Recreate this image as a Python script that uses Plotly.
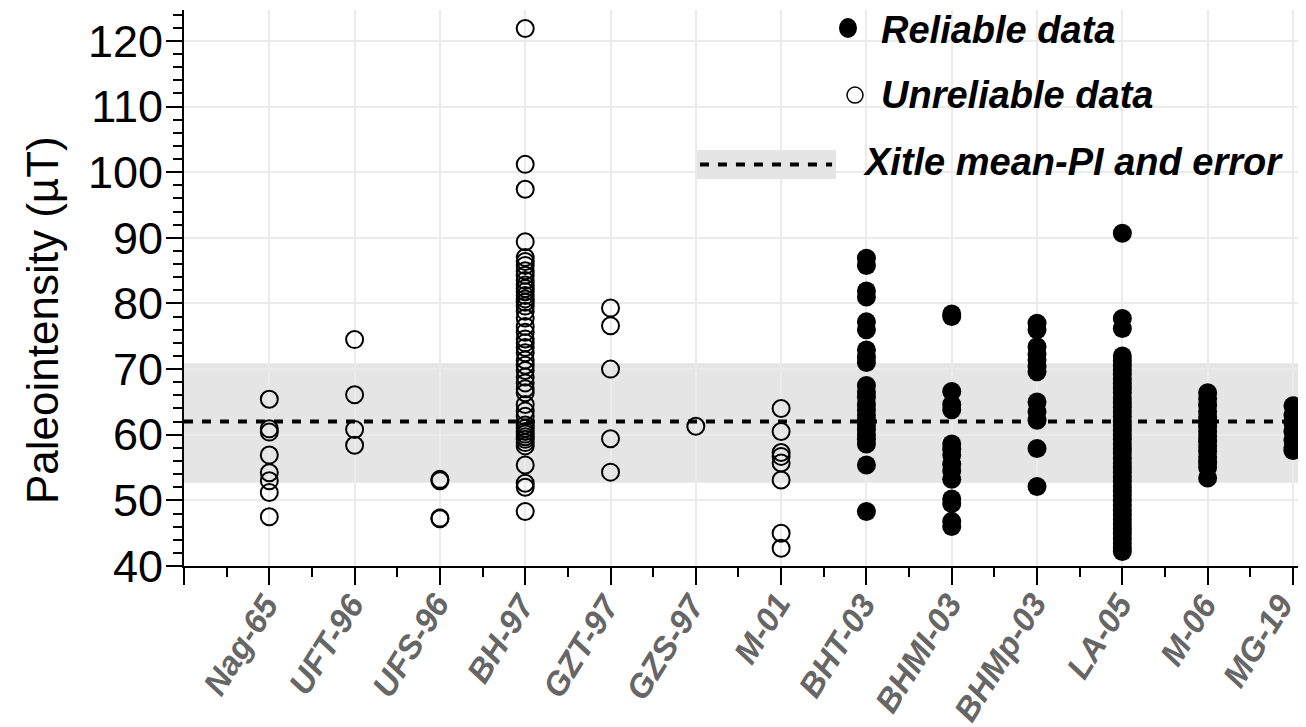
import plotly.graph_objects as go

# ---------------- data ----------------
categories = ["Nag-65", "UFT-96", "UFS-96", "BH-97", "GZT-97", "GZS-97", "M-01",
              "BHT-03", "BHMI-03", "BHMp-03", "LA-05", "M-06", "MG-19"]
reliable = [False, False, False, False, False, False, False,
            True, True, True, True, True, True]

nag65 = [65.4, 60.9, 60.4, 56.9, 54.2, 53.0, 51.2, 47.5]
uft96 = [74.5, 66.1, 60.8, 58.4]
ufs96 = [53.2, 53.0, 47.3, 47.2]
bh97 = [121.9, 101.2, 97.4, 89.4, 87.0, 86.4, 85.8, 85.0, 84.3, 83.5, 82.8, 82.3,
        81.8, 81.2, 80.7, 80.2, 79.6, 78.8, 77.8, 76.5, 75.6, 74.6, 74.0, 73.3,
        72.5, 71.4, 70.6, 69.8, 68.8, 67.9, 67.0, 66.4, 64.6, 63.6, 62.8, 61.5,
        61.0, 60.5, 60.1, 59.7, 59.3, 58.8, 58.3, 55.4, 52.6, 52.0, 48.3]
gzt97 = [79.3, 76.6, 70.0, 59.4, 54.3]
gzs97 = [61.3]
m01 = [64.0, 60.5, 57.3, 56.7, 55.7, 53.1, 45.0, 42.7]
bht03 = [86.9, 85.8, 81.9, 81.0, 77.2, 76.0, 72.9, 71.8, 71.0, 67.5, 66.5, 65.7,
         64.6, 63.8, 63.0, 62.2, 61.5, 60.8, 60.0, 59.3, 58.6, 55.4, 48.3]
bhmi03 = [78.4, 78.0, 66.6, 64.6, 63.8, 58.6, 57.8, 56.9, 55.5, 54.5, 53.2, 50.2,
          49.5, 46.8, 46.0]
bhmp03 = [77.0, 76.0, 73.4, 72.3, 71.4, 70.4, 69.6, 65.0, 63.5, 62.2, 57.9, 52.1]
la05 = [90.7, 77.7, 76.2, 72.0, 71.3, 70.6, 69.9, 69.2, 68.5, 67.8, 67.1, 66.4,
        65.6, 64.9, 64.2, 63.5, 62.8, 62.1, 61.4, 60.7, 60.0, 59.3, 58.6, 57.9,
        57.2, 56.4, 55.7, 55.0, 54.3, 53.6, 52.9, 52.1, 51.4, 50.7, 50.0, 49.3,
        48.5, 47.8, 47.1, 46.4, 45.7, 45.0, 44.2, 43.5, 42.8, 42.2]
m06 = [66.4, 65.5, 64.5, 63.5, 62.7, 62.0, 61.3, 60.5, 59.8, 59.0, 58.3, 57.5,
       56.6, 55.8, 55.0, 53.4]
mg19 = [64.4, 63.0, 61.8, 60.5, 59.2, 58.0, 57.6]

series = [nag65, uft96, ufs96, bh97, gzt97, gzs97, m01,
          bht03, bhmi03, bhmp03, la05, m06, mg19]

mean_pi = 62.0
pi_low = 52.7
pi_high = 70.9

y_ticks = [40, 50, 60, 70, 80, 90, 100, 110, 120]

# ---------------- build ----------------
FONT = "Arial, Liberation Sans, sans-serif"

xu, yu, xr, yr = [], [], [], []
for i, (vals, rel) in enumerate(zip(series, reliable), start=1):
    if rel:
        xr += [i] * len(vals)
        yr += vals
    else:
        xu += [i] * len(vals)
        yu += vals

fig = go.Figure()
fig.add_trace(go.Scatter(
    x=xu, y=yu, mode="markers", name="Unreliable data", showlegend=False,
    marker=dict(symbol="circle-open", size=17, color="black",
                line=dict(width=2, color="black")),
    cliponaxis=False))
fig.add_trace(go.Scatter(
    x=xr, y=yr, mode="markers", name="Reliable data", showlegend=False,
    marker=dict(symbol="circle", size=19, color="black"),
    cliponaxis=False))

# error band and mean line
fig.add_shape(type="rect", xref="paper", yref="y", x0=0, x1=1,
              y0=pi_low, y1=pi_high, fillcolor="#e5e5e5",
              line=dict(width=0), layer="between")
fig.add_shape(type="line", xref="paper", yref="y", x0=0, x1=1,
              y0=mean_pi, y1=mean_pi,
              line=dict(color="black", width=4, dash="9px,9px"), layer="above")

# manual legend (paper coordinates)
fig.add_shape(type="circle", xref="paper", yref="paper",
              xsizemode="pixel", ysizemode="pixel",
              xanchor=0.5876, yanchor=0.9676, x0=-9, x1=9, y0=-10, y1=10,
              fillcolor="black", line=dict(width=0))
fig.add_shape(type="circle", xref="paper", yref="paper",
              xsizemode="pixel", ysizemode="pixel",
              xanchor=0.5938, yanchor=0.847, x0=-8, x1=8, y0=-8, y1=8,
              fillcolor="rgba(0,0,0,0)", line=dict(width=1.5, color="black"))
fig.add_shape(type="rect", xref="paper", yref="paper",
              x0=0.454, x1=0.577, y0=0.696, y1=0.748,
              fillcolor="#e5e5e5", line=dict(width=0))
fig.add_shape(type="line", xref="paper", yref="paper",
              x0=0.4566, x1=0.5735, y0=0.7221, y1=0.7221,
              line=dict(color="black", width=4, dash="9px,9px"))

legend_texts = [("Reliable data", 0.6159, 0.964),
                ("Unreliable data", 0.6159, 0.847),
                ("Xitle mean-PI and error", 0.600, 0.727)]
for txt, lx, ly in legend_texts:
    fig.add_annotation(text="<b><i>%s</i></b>" % txt, xref="paper", yref="paper",
                       x=lx, y=ly, xanchor="left", yanchor="middle",
                       showarrow=False, borderpad=0,
                       font=dict(family=FONT, size=38, color="black"))

# y-axis title
fig.add_annotation(text="Paleointensity (µT)", xref="paper", yref="paper",
                   x=-0.1257, y=0.4424, xanchor="center", yanchor="middle",
                   textangle=-90, showarrow=False, borderpad=0,
                   font=dict(family=FONT, size=44, color="black"))

# category labels (rotated, anchored at their tick)
for i, cat in enumerate(categories, start=1):
    shift = 18 if i < len(categories) else 9
    fig.add_annotation(text="<b><i>%s</i></b>" % cat, xref="x", yref="paper",
                       x=i, y=-0.036, xshift=shift, xanchor="right", yanchor="top",
                       textangle=-58, showarrow=False, borderpad=0,
                       font=dict(family=FONT, size=33, color="#666666"))

fig.update_layout(
    width=1306, height=727,
    margin=dict(l=176, r=0, t=2, b=169),
    plot_bgcolor="white", paper_bgcolor="white",
    font=dict(family=FONT, color="black"),
    showlegend=False,
    xaxis=dict(
        range=[0, 13.247],
        automargin=False,
        tickmode="array",
        tickvals=list(range(0, len(categories) + 1)),
        showticklabels=False,
        ticks="outside", ticklen=17, tickwidth=2, tickcolor="black",
        showline=True, linecolor="black", linewidth=2,
        showgrid=True, gridcolor="#ebebeb", gridwidth=1.5,
        zeroline=False,
        minor=dict(tickmode="array",
                   tickvals=[k + 0.5 for k in range(len(categories))],
                   ticks="outside", ticklen=9, tickwidth=2, tickcolor="black",
                   showgrid=False),
    ),
    yaxis=dict(
        range=[40, 124.72],
        automargin=False,
        tickmode="array", tickvals=y_ticks,
        ticktext=[str(v) for v in y_ticks],
        tickfont=dict(family=FONT, size=45, color="black"),
        ticklabelstandoff=-6,
        ticks="outside", ticklen=16, tickwidth=2, tickcolor="black",
        showline=True, linecolor="black", linewidth=2,
        showgrid=True, gridcolor="#ebebeb", gridwidth=1.5,
        zeroline=False,
        minor=dict(dtick=2, tick0=40, ticks="outside", ticklen=9, tickwidth=2,
                   tickcolor="black", showgrid=False),
    ),
)

fig.write_html("out.html")
